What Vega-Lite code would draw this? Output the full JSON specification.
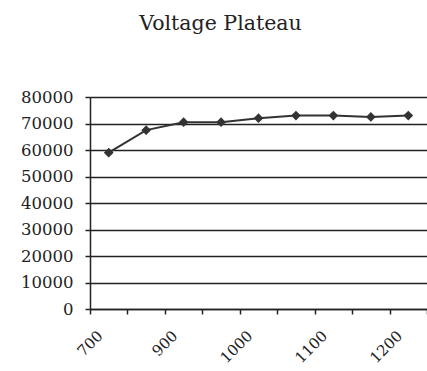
{
  "$schema": "https://vega.github.io/schema/vega-lite/v6.json",
  "width": 337,
  "height": 212,
  "autosize": {"type": "none"},
  "padding": {"left": 90, "top": 97, "right": 0, "bottom": 62},
  "background": "white",
  "title": {
    "text": "Voltage Plateau",
    "font": "DejaVu Serif",
    "fontSize": 20.5,
    "fontWeight": "normal",
    "color": "#222",
    "anchor": "middle",
    "dx": -38,
    "offset": 55
  },
  "data": {
    "values": [
      {"voltage": "700", "count": 59000},
      {"voltage": "800", "count": 67500},
      {"voltage": "900", "count": 70500},
      {"voltage": "950", "count": 70500},
      {"voltage": "1000", "count": 72000},
      {"voltage": "1050", "count": 73000},
      {"voltage": "1100", "count": 73000},
      {"voltage": "1150", "count": 72500},
      {"voltage": "1200", "count": 73000}
    ]
  },
  "config": {
    "view": {"stroke": null},
    "axis": {
      "labelFont": "DejaVu Serif",
      "labelFontSize": 16.5,
      "labelColor": "#222",
      "domainColor": "#222",
      "tickColor": "#222",
      "gridColor": "#222"
    }
  },
  "encoding": {
    "x": {
      "field": "voltage",
      "type": "ordinal",
      "sort": null,
      "scale": {"paddingInner": 0, "paddingOuter": 0},
      "axis": {
        "title": null,
        "tickBand": "extent",
        "labelFont": "DejaVu Serif",
        "labelFontSize": 15,
        "labelAngle": -45,
        "labelAlign": "right",
        "labelBaseline": "top",
        "labelPadding": 14,
        "labelOffset": -14,
        "tickSize": 5,
        "domainWidth": 1.5,
        "tickWidth": 1.5,
        "labelExpr": "indexof(['700','900','1000','1100','1200'], datum.label) >= 0 ? datum.label : ''"
      }
    },
    "y": {
      "field": "count",
      "type": "quantitative",
      "scale": {"domain": [0, 80000], "nice": false},
      "axis": {
        "title": null,
        "format": "d",
        "labelFont": "DejaVu Serif",
        "values": [0, 10000, 20000, 30000, 40000, 50000, 60000, 70000, 80000],
        "grid": true,
        "gridWidth": 1.5,
        "gridOpacity": 1,
        "domainWidth": 1.5,
        "tickSize": 5,
        "tickWidth": 1.5,
        "labelPadding": 12
      }
    }
  },
  "layer": [
    {"mark": {"type": "line", "color": "#333", "strokeWidth": 2}},
    {"mark": {"type": "point", "shape": "diamond", "filled": true, "color": "#333", "opacity": 1, "size": 95}}
  ]
}
